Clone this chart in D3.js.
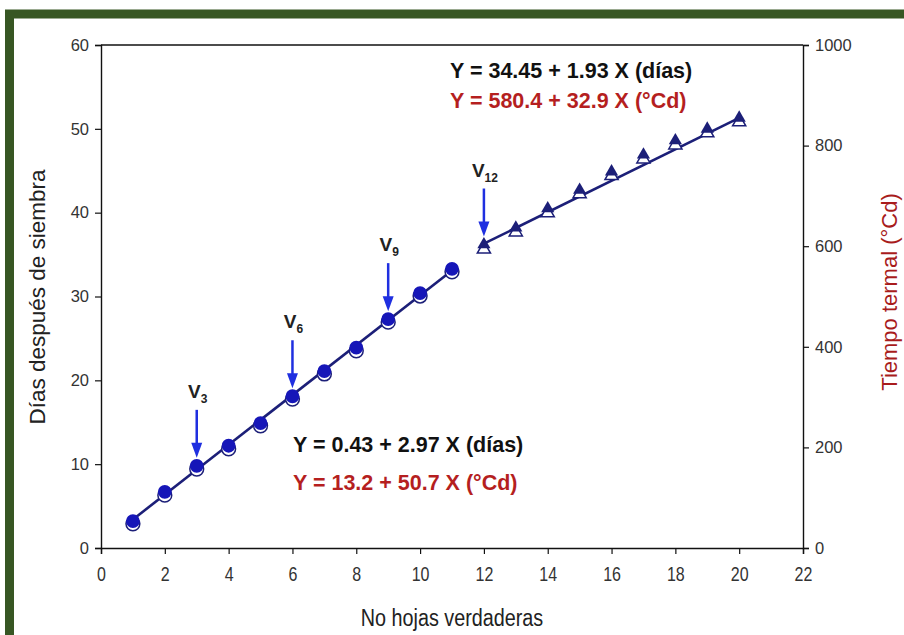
<!DOCTYPE html>
<html><head><meta charset="utf-8">
<script src="https://cdn.jsdelivr.net/npm/d3@7"></script>
<style>body{margin:0;background:#fff}svg{display:block}</style>
</head><body>
<svg id="c" width="904" height="635"></svg>
<script>
// ---- data ----
const leaves = [1,2,3,4,5,6,7,8,9,10,11,12,13,14,15,16,17,18,19,20];
const days = [3.2,6.7,9.8,12.2,14.9,18.1,21.1,23.9,27.3,30.4,33.3,36.2,38.2,40.5,42.7,44.9,46.9,48.6,50.0,51.3];
const thermal = [48,105,157,197,243,296,346,392,449,501,549,594,628,666,704,740,773,801,825,847];
const phase1 = [1,11];   // leaf range, circles
const phase2 = [12,20];  // leaf range, triangles
const fitIntercept = [0.43, 13.8];   // drawn fitted lines (days scale)
const fitSlope = [2.97, 1.875];
const stageLabels = ["3","6","9","12"];
const stageLeaves = [3,6,9,12];
const xTicks = [0,2,4,6,8,10,12,14,16,18,20,22];
const yTicks = [0,10,20,30,40,50,60];
const y2Ticks = [0,200,400,600,800,1000];
const eqTop = ["Y = 34.45 + 1.93 X (días)","Y = 580.4 + 32.9 X (°Cd)"];
const eqBottom = ["Y = 0.43 + 2.97 X (días)","Y  = 13.2 + 50.7 X (°Cd)"];

const svg = d3.select("#c");
// frame
svg.append("rect").attr("x",9.5).attr("y",14).attr("width",1000).attr("height",700)
  .attr("fill","none").attr("stroke","#375623").attr("stroke-width",9);

const L=101, R=803, T=45, B=548;
const x = d3.scaleLinear().domain([0,22]).range([L,R]);
const y = d3.scaleLinear().domain([0,60]).range([B,T]);
const y2 = d3.scaleLinear().domain([0,1000]).range([B,T]);

const sans = "'Liberation Sans',Arial,sans-serif";
// axes
const gx = svg.append("g").attr("transform",`translate(0,${B})`)
  .call(d3.axisBottom(x).tickValues(xTicks).tickSize(6).tickPadding(13));
const gy = svg.append("g").attr("transform",`translate(${L},0)`)
  .call(d3.axisLeft(y).tickValues(yTicks).tickSize(6).tickPadding(6));
const gy2 = svg.append("g").attr("transform",`translate(${R},0)`)
  .call(d3.axisRight(y2).tickValues(y2Ticks).tickFormat(d3.format("d")).tickSize(6).tickPadding(6));
[gx,gy,gy2].forEach(g=>{
  g.select(".domain").attr("stroke","#111").attr("stroke-width",1.4);
  g.selectAll(".tick line").attr("stroke","#111").attr("stroke-width",1.2);
  g.selectAll(".tick text").attr("fill","#333").style("font-size","16.5px").style("font-family",sans);
});
gx.selectAll(".tick text").style("font-size","20px").attr("transform","scale(0.8,1)");
// top frame line
svg.append("line").attr("x1",L).attr("x2",R).attr("y1",T).attr("y2",T).attr("stroke","#111").attr("stroke-width",1.4);

// axis titles
svg.append("text").attr("transform",`translate(45,297) rotate(-90)`).attr("text-anchor","middle")
  .style("font-family",sans).style("font-size","22.5px").attr("fill","#222")
  .text("Días después de siembra");
svg.append("text").attr("transform",`translate(897,292) rotate(-90)`).attr("text-anchor","middle")
  .style("font-family",sans).style("font-size","22px").attr("fill","#a81c1c")
  .text("Tiempo termal (°Cd)");
svg.append("text").attr("transform",`translate(452,626) scale(0.86,1)`).attr("text-anchor","middle")
  .style("font-family",sans).style("font-size","23px").attr("fill","#222")
  .text("No hojas verdaderas");

// fitted lines
const line = d3.line().x(d=>x(d[0])).y(d=>y(d[1]));
[phase1,phase2].forEach((p,k)=>{
  const pts = p.map(v=>[v, fitIntercept[k]+fitSlope[k]*v]);
  svg.append("path").attr("d",line(pts)).attr("stroke","#1c1f78").attr("stroke-width",2.6).attr("fill","none");
});

// markers
const circ = d3.symbol().type(d3.symbolCircle).size(150);
const tri = d3.symbol().type(d3.symbolTriangle).size(75);
leaves.forEach((lv,i)=>{
  const isC = lv<=phase1[1];
  const sym = isC?circ:tri;
  svg.append("path").attr("d",sym()).attr("transform",`translate(${x(lv)},${y2(thermal[i])})`)
    .attr("fill","#fff").attr("stroke","#1c1f78").attr("stroke-width",1.5);
  svg.append("path").attr("d",sym()).attr("transform",`translate(${x(lv)},${y(days[i])})`)
    .attr("fill",isC?"#1616b8":"#1c1f78");
});

// stage arrows
stageLeaves.forEach((lv,k)=>{
  const i = leaves.indexOf(lv);
  const px = x(lv), tip = y(days[i]) - 8, top = tip - 48;
  svg.append("line").attr("x1",px).attr("x2",px).attr("y1",top).attr("y2",tip-10)
    .attr("stroke","#1f2fe0").attr("stroke-width",2.5);
  svg.append("path").attr("d",`M${px-5.5},${tip-15}L${px+5.5},${tip-15}L${px},${tip}Z`).attr("fill","#1f2fe0");
  const t = svg.append("text").attr("x",px+1).attr("y",top-12).attr("text-anchor","middle")
    .style("font-family",sans).style("font-weight","bold").attr("fill","#222");
  t.append("tspan").style("font-size","19px").text("V");
  t.append("tspan").style("font-size","12px").attr("dy",5).text(stageLabels[k]);
});

// equations
function eqs(arr,x0,ys){
  arr.forEach((s,j)=>svg.append("text").attr("x",x0).attr("y",ys[j])
    .style("font-family",sans).style("font-weight","bold").style("font-size","21.5px")
    .attr("fill",j===0?"#111":"#b51f1f").text(s));
}
eqs(eqTop,450,[78,108]);
eqs(eqBottom,293,[452,490]);
</script>
</body></html>
